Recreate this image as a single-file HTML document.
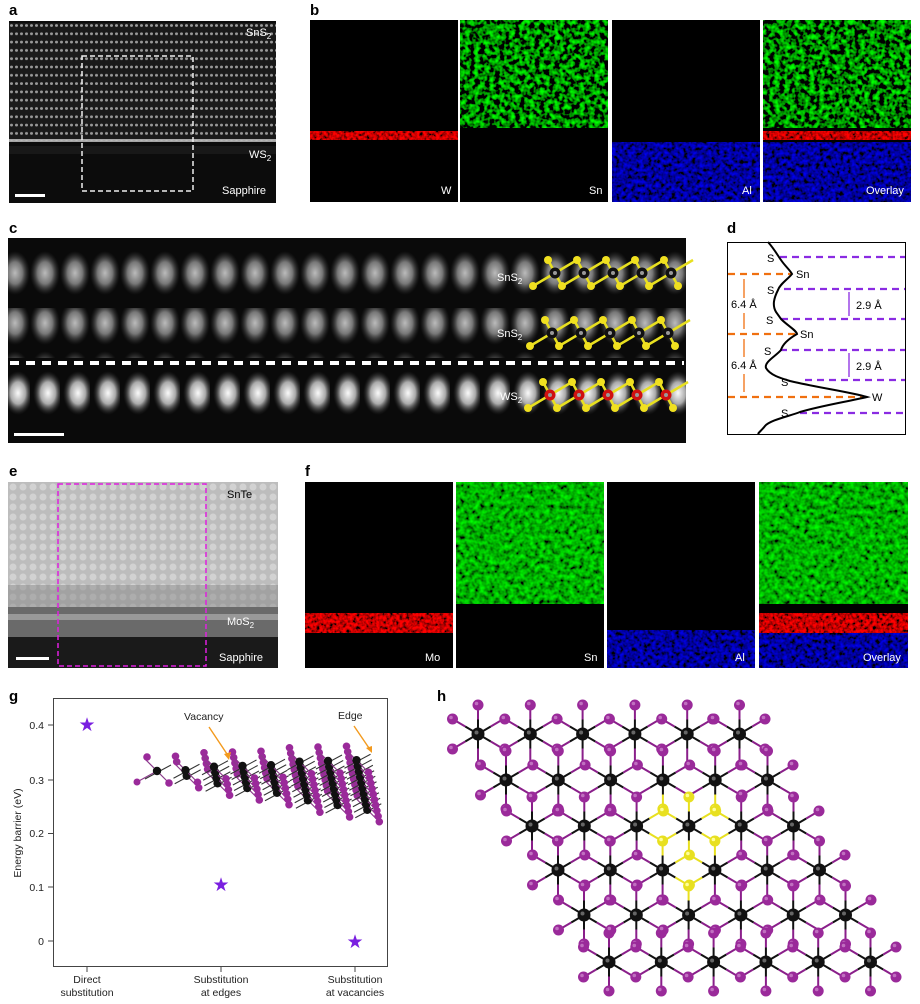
<!DOCTYPE html>
<html><head><meta charset="utf-8"><style>
body{margin:0;background:#fff}
svg{display:block;font-family:"Liberation Sans",Arial,sans-serif}
</style></head><body>
<svg id="s" width="920" height="1004" viewBox="0 0 920 1004" xmlns="http://www.w3.org/2000/svg">
<defs>
<pattern id="pa" x="9" y="23" width="5" height="8.3" patternUnits="userSpaceOnUse"><rect width="5" height="8.3" fill="#1a1a1a"/><ellipse cx="2.5" cy="2.5" rx="1.5" ry="1.4" fill="#999"/></pattern>
<radialGradient id="blob"><stop offset="0" stop-color="#bbb"/><stop offset="0.5" stop-color="#777"/><stop offset="1" stop-color="#333" stop-opacity="0"/></radialGradient>
<radialGradient id="blobw"><stop offset="0" stop-color="#fafafa"/><stop offset="0.5" stop-color="#aaa"/><stop offset="1" stop-color="#333" stop-opacity="0"/></radialGradient>
<pattern id="pc1" x="0" y="248" width="30" height="50" patternUnits="userSpaceOnUse"><ellipse cx="15" cy="25" rx="15" ry="22" fill="url(#blob)"/></pattern>
<pattern id="pc3" x="0" y="368" width="30" height="50" patternUnits="userSpaceOnUse"><ellipse cx="18" cy="25" rx="15" ry="22" fill="url(#blobw)"/></pattern>
<pattern id="pe" x="8" y="482" width="10" height="10" patternUnits="userSpaceOnUse"><rect width="10" height="10" fill="#bdbdbd"/><circle cx="5" cy="5" r="3.5" fill="#d2d2d2"/></pattern>
<filter id="fg" x="0" y="0" width="1" height="1"><feTurbulence type="fractalNoise" baseFrequency="0.2" numOctaves="2" seed="3"/><feColorMatrix type="matrix" values="0 0 0 0 0  2.6 0 0 0 -1.05  0 0 0 0 0  0 0 0 0 1"/></filter>
<filter id="fg2" x="0" y="0" width="1" height="1"><feTurbulence type="fractalNoise" baseFrequency="0.2" numOctaves="2" seed="7"/><feColorMatrix type="matrix" values="0 0 0 0 0  1.6 0 0 0 -0.35  0 0 0 0 0  0 0 0 0 1"/></filter>
<filter id="fb" x="0" y="0" width="1" height="1"><feTurbulence type="fractalNoise" baseFrequency="0.25" numOctaves="2" seed="5"/><feColorMatrix type="matrix" values="0 0 0 0 0  0 0 0 0 0  1.6 0 0 0 -0.45  0 0 0 0 1"/></filter>
<filter id="fr" x="0" y="0" width="1" height="1"><feTurbulence type="fractalNoise" baseFrequency="0.3" numOctaves="2" seed="9"/><feColorMatrix type="matrix" values="2.4 0 0 0 -0.6  0 0 0 0 0  0 0 0 0 0  0 0 0 0 1"/></filter>
</defs>

<g font-weight="bold" font-size="15" fill="#000">
<text x="9" y="15">a</text><text x="310" y="15">b</text><text x="9" y="233">c</text><text x="727" y="233">d</text>
<text x="9" y="476">e</text><text x="305" y="476">f</text><text x="9" y="701">g</text><text x="437" y="701">h</text>
</g>

<!-- a -->
<rect x="9" y="21" width="267" height="182" fill="#0c0c0c"/>
<rect x="9" y="23" width="267" height="118" fill="url(#pa)"/>
<rect x="9" y="139" width="267" height="3" fill="#ccc" opacity=".8"/>
<rect x="9" y="146" width="267" height="8" fill="#222" opacity=".6"/>
<rect x="82" y="56" width="111" height="135" fill="none" stroke="#eee" stroke-width="1.5" stroke-dasharray="5,3"/>
<rect x="15" y="194" width="30" height="3" fill="#fff"/>
<g fill="#fff" font-size="11"><text x="246" y="36">SnS<tspan font-size="8" dy="3">2</tspan></text><text x="249" y="158">WS<tspan font-size="8" dy="3">2</tspan></text><text x="222" y="194">Sapphire</text></g>

<!-- b -->
<rect x="310" y="20" width="148" height="182" fill="#000"/>
<rect x="310" y="131" width="148" height="9" filter="url(#fr)"/>
<rect x="460" y="20" width="148" height="182" fill="#000"/>
<rect x="460" y="20" width="148" height="108" filter="url(#fg)"/>
<rect x="612" y="20" width="148" height="182" fill="#000"/>
<rect x="612" y="142" width="148" height="60" filter="url(#fb)"/>
<rect x="763" y="20" width="148" height="182" fill="#000"/>
<rect x="763" y="20" width="148" height="108" filter="url(#fg)"/>
<rect x="763" y="142" width="148" height="60" filter="url(#fb)"/>
<rect x="763" y="131" width="148" height="9" filter="url(#fr)"/>
<g fill="#fff" font-size="11"><text x="441" y="194">W</text><text x="589" y="194">Sn</text><text x="742" y="194">Al</text><text x="866" y="194">Overlay</text></g>

<!-- c -->
<rect x="8" y="238" width="678" height="205" fill="#0a0a0a"/>
<rect x="8" y="248" width="678" height="50" fill="url(#pc1)"/>
<rect x="8" y="308" width="678" height="50" fill="url(#pc1)"/>
<rect x="8" y="368" width="678" height="50" fill="url(#pc3)"/>
<line x1="10" y1="363" x2="684" y2="363" stroke="#fff" stroke-width="4" stroke-dasharray="9,7"/>
<rect x="14" y="433" width="50" height="3" fill="#fff"/>
<g fill="#fff" font-size="11"><text x="497" y="281">SnS<tspan font-size="8" dy="3">2</tspan></text><text x="497" y="337">SnS<tspan font-size="8" dy="3">2</tspan></text><text x="500" y="400">WS<tspan font-size="8" dy="3">2</tspan></text></g>
<g id="cmol"></g>

<!-- d -->
<rect x="727.5" y="242.5" width="178" height="192" fill="#fff" stroke="#000"/>
<g stroke="#8a2be2" stroke-width="2.2" stroke-dasharray="7,5">
<line x1="780" y1="257" x2="905" y2="257"/><line x1="784" y1="289" x2="905" y2="289"/><line x1="781" y1="319" x2="905" y2="319"/><line x1="780" y1="350" x2="905" y2="350"/><line x1="805" y1="380" x2="905" y2="380"/><line x1="800" y1="413" x2="905" y2="413"/>
</g>
<g stroke="#f07010" stroke-width="2.2" stroke-dasharray="7,5">
<line x1="728" y1="274" x2="792" y2="274"/><line x1="728" y1="334" x2="797" y2="334"/><line x1="728" y1="397" x2="866" y2="397"/>
</g>
<g stroke="#f07010" stroke-width="1.3">
<line x1="744" y1="279" x2="744" y2="298"/><line x1="744" y1="313" x2="744" y2="329"/><line x1="744" y1="339" x2="744" y2="357"/><line x1="744" y1="374" x2="744" y2="392"/>
</g>
<g stroke="#8a2be2" stroke-width="1.3"><line x1="849" y1="292" x2="849" y2="316"/><line x1="849" y1="353" x2="849" y2="377"/></g>
<path d="M768,242 C775,250 778,256 781,260 C785,266 790,270 792,274 C787,280 780,284 778,290 C774,298 772,305 776,312 L781,319 C788,326 796,330 797,334 C790,338 783,343 781,350 C776,356 764,362 766,368 C770,375 780,378 790,381 C820,388 850,392 867,397 C845,402 820,406 800,412 C790,416 770,420 765,426 C762,430 759,432 758,434" fill="none" stroke="#000" stroke-width="2"/>
<g font-size="11" fill="#000">
<text x="767" y="262">S</text><text x="796" y="278">Sn</text><text x="767" y="294">S</text><text x="766" y="324">S</text><text x="800" y="338">Sn</text><text x="764" y="355">S</text><text x="781" y="386">S</text><text x="872" y="401">W</text><text x="781" y="417">S</text>
<text x="731" y="308">6.4 Å</text><text x="731" y="369">6.4 Å</text><text x="856" y="309">2.9 Å</text><text x="856" y="370">2.9 Å</text>
</g>

<!-- e -->
<rect x="8" y="482" width="270" height="186" fill="#111"/>
<rect x="8" y="482" width="270" height="125" fill="url(#pe)"/>
<rect x="8" y="585" width="270" height="22" fill="#888" opacity=".5"/>
<rect x="8" y="607" width="270" height="30" fill="#6a6a6a"/>
<rect x="8" y="614" width="270" height="6" fill="#999"/>
<rect x="8" y="637" width="270" height="31" fill="#1a1a1a"/>
<rect x="58" y="484" width="148" height="182" fill="none" stroke="#e020e0" stroke-width="1.5" stroke-dasharray="5,3"/>
<rect x="16" y="657" width="33" height="3" fill="#fff"/>
<g font-size="11"><text x="227" y="498" fill="#000">SnTe</text><text x="227" y="625" fill="#fff">MoS<tspan font-size="8" dy="3">2</tspan></text><text x="219" y="661" fill="#fff">Sapphire</text></g>

<!-- f -->
<rect x="305" y="482" width="148" height="186" fill="#000"/>
<rect x="305" y="613" width="148" height="20" filter="url(#fr)"/>
<rect x="456" y="482" width="148" height="186" fill="#000"/>
<rect x="456" y="482" width="148" height="122" filter="url(#fg2)"/>
<rect x="607" y="482" width="148" height="186" fill="#000"/>
<rect x="607" y="630" width="148" height="38" filter="url(#fb)"/>
<rect x="759" y="482" width="149" height="186" fill="#000"/>
<rect x="759" y="482" width="149" height="122" filter="url(#fg2)"/>
<rect x="759" y="630" width="149" height="38" filter="url(#fb)"/>
<rect x="759" y="613" width="149" height="20" filter="url(#fr)"/>
<g fill="#fff" font-size="11"><text x="425" y="661">Mo</text><text x="584" y="661">Sn</text><text x="735" y="661">Al</text><text x="863" y="661">Overlay</text></g>

<!-- g -->
<rect x="53.5" y="698.5" width="334" height="268" fill="none" stroke="#444" stroke-width="1"/>
<g stroke="#444"><line x1="48" y1="725" x2="53" y2="725"/><line x1="48" y1="780" x2="53" y2="780"/><line x1="48" y1="833.5" x2="53" y2="833.5"/><line x1="48" y1="887" x2="53" y2="887"/><line x1="48" y1="941" x2="53" y2="941"/>
<line x1="87" y1="967" x2="87" y2="972"/><line x1="221" y1="967" x2="221" y2="972"/><line x1="355" y1="967" x2="355" y2="972"/></g>
<g font-size="10.5" fill="#222" text-anchor="end"><text x="44" y="729">0.4</text><text x="44" y="784">0.3</text><text x="44" y="837">0.2</text><text x="44" y="891">0.1</text><text x="44" y="945">0</text></g>
<text transform="translate(21,833) rotate(-90)" font-size="10.5" text-anchor="middle" fill="#222">Energy barrier (eV)</text>
<g font-size="10.5" fill="#222" text-anchor="middle"><text x="87" y="983">Direct</text><text x="87" y="996">substitution</text><text x="221" y="983">Substitution</text><text x="221" y="996">at edges</text><text x="355" y="983">Substitution</text><text x="355" y="996">at vacancies</text></g>
<g fill="#7a1fe0" font-size="19" text-anchor="middle"><text x="87" y="731">★</text><text x="221" y="891">★</text><text x="355" y="948">★</text></g>
<g id="gmol"></g>
<g font-size="10.5" fill="#222"><text x="184" y="720">Vacancy</text><text x="338" y="719">Edge</text></g>
<g stroke="#f39a1e" stroke-width="1.4"><line x1="209" y1="727" x2="229" y2="757"/><line x1="354" y1="726" x2="371" y2="751"/></g>
<g fill="#f39a1e"><polygon points="229,760 224,754 231,752"/><polygon points="372,753 366,748 372,746"/></g>

<g id="hlat"></g>
</svg>
<script>
var NS="http://www.w3.org/2000/svg";
function el(p,t,a){var e=document.createElementNS(NS,t);for(var k in a)e.setAttribute(k,a[k]);p.appendChild(e);return e;}
var h=document.getElementById('hlat');
var blacks=[],pm={};
var rowsY=[734,780,826,870,915,962],rowsX=[478,506,532,558,584,609];
for(var r=0;r<6;r++)for(var c=0;c<6;c++)blacks.push([rowsX[r]+c*52.3,rowsY[r]]);
var off=[[0,-29],[0,29],[25.5,-15],[25.5,15],[-25.5,-15],[-25.5,15]];
var bonds=[];
blacks.forEach(function(b){off.forEach(function(o){var x=b[0]+o[0],y=b[1]+o[1];var key=Math.round(x/4)+'_'+Math.round(y/4);pm[key]=[x,y];bonds.push([b[0],b[1],x,y]);});});
var yellowSet=function(x,y){return Math.hypot(x-690,y-845)<50;};
var gb=el(h,'g',{});
bonds.forEach(function(l){var y=yellowSet(l[2],l[3]);el(gb,'line',{x1:l[0],y1:l[1],x2:(l[0]+l[2])/2,y2:(l[1]+l[3])/2,stroke:'#111','stroke-width':2});el(gb,'line',{x1:(l[0]+l[2])/2,y1:(l[1]+l[3])/2,x2:l[2],y2:l[3],stroke:y?'#e8e020':'#8a1f8a','stroke-width':2});});
for(var k in pm){var p=pm[k];var y=yellowSet(p[0],p[1]);el(h,'circle',{cx:p[0],cy:p[1],r:5.5,fill:y?'#e8e020':'#9a2a9a'});el(h,'circle',{cx:p[0]-1.5,cy:p[1]-1.5,r:1.8,fill:y?'#ffff99':'#c070c0'});}
blacks.forEach(function(b){el(h,'circle',{cx:b[0],cy:b[1],r:6.5,fill:'#111'});el(h,'circle',{cx:b[0]-1.5,cy:b[1]-1.5,r:2,fill:'#666'});});
// g molecule
var g=document.getElementById('gmol');
el(g,'line',{x1:137,y1:782,x2:157,y2:771,stroke:'#8a3a8a','stroke-width':1.2});
el(g,'circle',{cx:137,cy:782,r:3.5,fill:'#9a2a9a'});
for(var i=0;i<8;i++){var cx=157+28.5*i,n=1+i*1.3,cy=771+i*2;
 var N=Math.round(n);
 for(var k=N-1;k>=0;k--){var dx=k*1.2,dy=(k-(N-1)/2)*5.5;
  el(g,'line',{x1:cx+dx-12,y1:cy+dy-12,x2:cx+dx+12,y2:cy+dy+12,stroke:'#8a3a8a','stroke-width':1.2});
  el(g,'line',{x1:cx+dx-12,y1:cy+dy+8,x2:cx+dx+14,y2:cy+dy-6,stroke:'#333','stroke-width':1});
  el(g,'circle',{cx:cx+dx-10,cy:cy+dy-14,r:3.8,fill:'#9a2a9a'});
  el(g,'circle',{cx:cx+dx+12,cy:cy+dy+12,r:3.8,fill:'#9a2a9a'});
  el(g,'circle',{cx:cx+dx,cy:cy+dy,r:4.2,fill:'#111'});}
}
// c molecules
var cm=document.getElementById('cmol');
function chain(y,col,shift){var xs=[];for(var i=0;i<5;i++)xs.push(555+shift+i*29);
 var Y='#e8e020';
 xs.forEach(function(x){
  [[x-7,y-13],[x+22,y-13],[x-22,y+13],[x+7,y+13]].forEach(function(p){el(cm,'line',{x1:x,y1:y,x2:p[0],y2:p[1],stroke:Y,'stroke-width':2.5});});});
 xs.forEach(function(x){el(cm,'circle',{cx:x-7,cy:y-13,r:4,fill:'#f0e020'});el(cm,'circle',{cx:x+7,cy:y+13,r:4,fill:'#f0e020'});});
 el(cm,'circle',{cx:xs[0]-22,cy:y+13,r:4,fill:'#f0e020'});
 xs.forEach(function(x){el(cm,'circle',{cx:x,cy:y,r:5.5,fill:col});el(cm,'circle',{cx:x,cy:y,r:2,fill:'#999'});});}
chain(273,'#111',0);chain(333,'#111',-3);chain(395,'#d01010',-5);
</script>
</body></html>
